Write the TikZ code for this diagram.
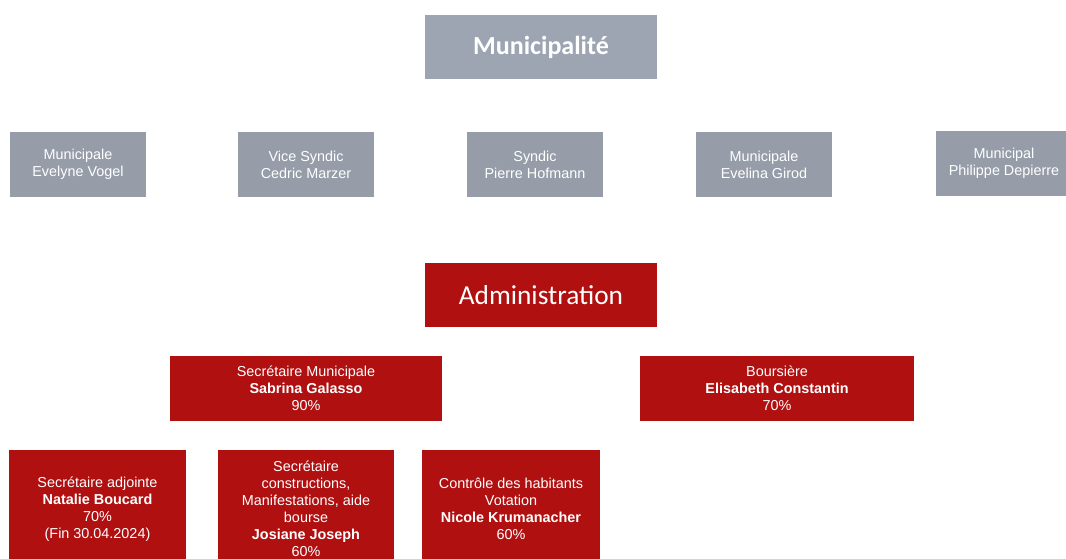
\documentclass[tikz,border=0pt]{standalone}
\usepackage{fontspec}
\setmainfont{Liberation Sans}
\newfontfamily\calib{Carlito}
\definecolor{grayA}{RGB}{158,165,178}
\definecolor{grayB}{RGB}{150,157,168}
\definecolor{redA}{RGB}{176,16,16}
\tikzset{
  px/.style={x=0.75pt,y=-0.75pt},
  gbox/.style={fill=grayB,draw=none,text=white,align=center,inner sep=0pt,
     font=\fontsize{10.8}{12.75}\selectfont},
  tbox/.style={draw=none,text=white,align=center,inner sep=0pt},
  rbox/.style={fill=redA,draw=none,text=white,align=center,inner sep=0pt,
     font=\fontsize{10.8}{12.75}\selectfont},
}
\begin{document}
\begin{tikzpicture}[px]
\useasboundingbox (0,0) rectangle (1066,558);
\clip (0,0) rectangle (1066,558);
% top
\node[tbox,fill=grayA,minimum width=232*0.75pt,minimum height=64*0.75pt,
  font=\calib\bfseries\fontsize{19.5}{22}\selectfont] (muni) at (541,47) {Municipalité};
% row 2
\node[gbox,minimum width=136*0.75pt,minimum height=65*0.75pt] (vogel) at (78,164.5) {Municipale\\Evelyne Vogel};
\node[gbox,minimum width=136*0.75pt,minimum height=65*0.75pt] (marzer) at (306,164.5) {Vice Syndic\\Cedric Marzer};
\node[gbox,minimum width=136*0.75pt,minimum height=65*0.75pt] (hofmann) at (535,164.5) {Syndic\\Pierre Hofmann};
\node[gbox,minimum width=136*0.75pt,minimum height=65*0.75pt] (girod) at (764,164.5) {Municipale\\Evelina Girod};
\node[gbox,minimum width=136*0.75pt,minimum height=65*0.75pt] (depierre) at (1004,163.5) {Municipal\\Philippe Depierre};
% administration
\node[tbox,fill=redA,minimum width=232*0.75pt,minimum height=64*0.75pt,
  font=\calib\fontsize{20.5}{22}\selectfont] (admin) at (541,295) {Administration};
% row 4
\node[rbox,minimum width=272*0.75pt,minimum height=65*0.75pt] (galasso) at (306,388.5) {Secrétaire Municipale\\\textbf{Sabrina Galasso}\\90\%};
\node[rbox,minimum width=274*0.75pt,minimum height=65*0.75pt] (constantin) at (777,388.5) {Boursière\\\textbf{Elisabeth Constantin}\\70\%};
% row 5
\node[rbox,minimum width=177*0.75pt,minimum height=118*0.75pt] (boucard) at (97.5,509) {Secrétaire adjointe\\\textbf{Natalie Boucard}\\70\%\\(Fin 30.04.2024)};
\node[rbox,minimum width=176*0.75pt,minimum height=118*0.75pt] (joseph) at (306,509) {Secrétaire\\constructions,\\Manifestations, aide\\bourse\\\textbf{Josiane Joseph}\\60\%};
\node[rbox,minimum width=178*0.75pt,minimum height=118*0.75pt] (krumanacher) at (511,509) {Contrôle des habitants\\Votation\\\textbf{Nicole Krumanacher}\\60\%};
\end{tikzpicture}
\end{document}
